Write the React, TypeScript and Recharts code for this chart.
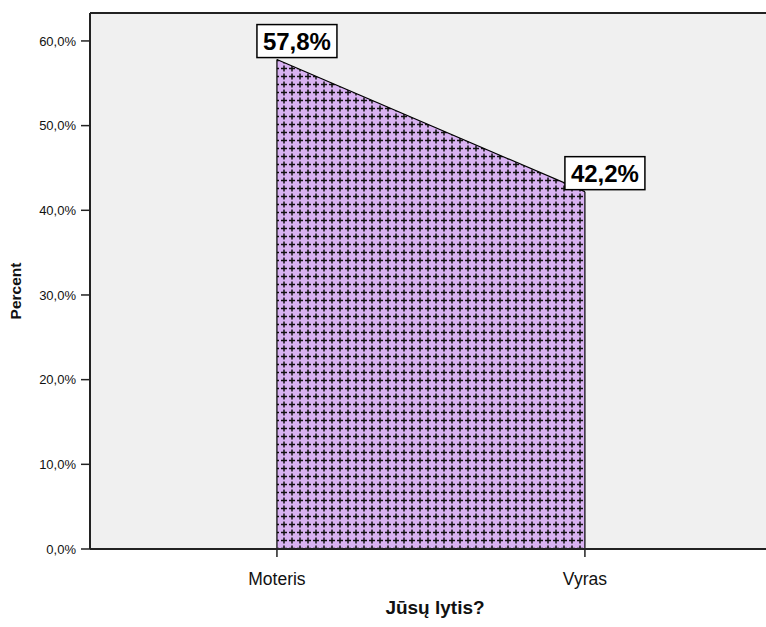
import React from "react";
import {
  AreaChart,
  Area,
  XAxis,
  YAxis,
  CartesianGrid,
  ReferenceLine,
  LabelList,
  Label,
} from "recharts";

const categories = ["Moteris", "Vyras"];
const percents = [57.8, 42.2];
const yTicks = [0, 10, 20, 30, 40, 50, 60];
const xTitle = "Jūsų lytis?";
const yTitle = "Percent";

const data = categories.map((c, i) => ({ idx: i, name: c, value: percents[i] }));

const FONT = "'Liberation Sans', Arial, sans-serif";
const Y_MAX = 63.3;

const fmtPct = (v: number) => v.toFixed(1).replace(".", ",") + "%";

const ValueBox = (props: any) => {
  const { x, y, value } = props;
  if (x == null || y == null) return null;
  return (
    <g>
      <rect x={x - 20} y={y - 35} width={80} height={33} fill="#ffffff" stroke="#000" strokeWidth={1.5} />
      <text
        x={x + 20}
        y={y - 10}
        textAnchor="middle"
        fontFamily={FONT}
        fontWeight="bold"
        fontSize={24}
        fill="#000"
      >
        {fmtPct(value)}
      </text>
    </g>
  );
};

const YTitle = (props: any) => {
  const vb = props.viewBox || {};
  const cx = (vb.x ?? 0) + 21;
  const cy = (vb.y ?? 0) + (vb.height ?? 0) / 2 + 10;
  return (
    <text
      x={cx}
      y={cy}
      transform={`rotate(-90 ${cx} ${cy})`}
      textAnchor="middle"
      fontFamily={FONT}
      fontSize={15.5}
      fontWeight="bold"
      fill="#111"
    >
      {yTitle}
    </text>
  );
};

export default function App() {
  return (
    <div style={{ position: "absolute", left: 0, top: 0, width: 766, height: 627, background: "#fff" }}>
      <AreaChart
        width={766}
        height={627}
        data={data}
        margin={{ top: 13, right: 0, bottom: 0, left: 0 }}
      >
        <defs>
          <pattern id="crossPat" width="8" height="8" patternUnits="userSpaceOnUse">
            <rect width="8" height="8" fill="#d9b2f2" />
            <path d="M4 1.5 V7.5 M1 4.5 H7" stroke="#111" strokeWidth={1.5} />
          </pattern>
        </defs>
        <CartesianGrid fill="#f0f0f0" horizontal={false} vertical={false} />
        <XAxis
          dataKey="idx"
          type="number"
          domain={[-0.607, 1.588]}
          ticks={[0, 1]}
          height={78}
          tickFormatter={(v: number) => categories[v] ?? ""}
          allowDataOverflow
          axisLine={{ stroke: "#222", strokeWidth: 2 }}
          tickLine={{ stroke: "#222", strokeWidth: 1.5 }}
          tickSize={8}
          tick={{ fontFamily: FONT, fontSize: 17.5, fill: "#111", dy: 14 }}
        >
          <Label
            value={xTitle}
            position="insideBottom"
            offset={0}
            dy={-13}
            dx={7}
            fontFamily={FONT}
            fontSize={19}
            fontWeight="bold"
            fill="#111"
          />
        </XAxis>
        <YAxis
          type="number"
          domain={[0, Y_MAX]}
          ticks={yTicks}
          width={90}
          allowDataOverflow
          tickFormatter={(v: number) => fmtPct(v)}
          axisLine={{ stroke: "#222", strokeWidth: 2 }}
          tickLine={{ stroke: "#222", strokeWidth: 1.5 }}
          tickSize={9}
          tickMargin={5}
          tick={{ fontFamily: FONT, fontSize: 13, fill: "#111" }}
        >
          <Label content={YTitle} position="insideLeft" />
        </YAxis>
        <ReferenceLine y={Y_MAX} stroke="#222" strokeWidth={2} ifOverflow="extendDomain" />
        <Area
          type="linear"
          dataKey="value"
          stroke="#000"
          strokeWidth={1.2}
          fill="url(#crossPat)"
          fillOpacity={1}
          baseValue={0}
          isAnimationActive={false}
          dot={false}
          activeDot={false}
        >
          <LabelList dataKey="value" content={ValueBox} />
        </Area>
        {data.map((d) => (
          <ReferenceLine
            key={d.name}
            segment={[
              { x: d.idx, y: 0 },
              { x: d.idx, y: d.value },
            ]}
            stroke="#000"
            strokeWidth={1.2}
          />
        ))}
      </AreaChart>
    </div>
  );
}
